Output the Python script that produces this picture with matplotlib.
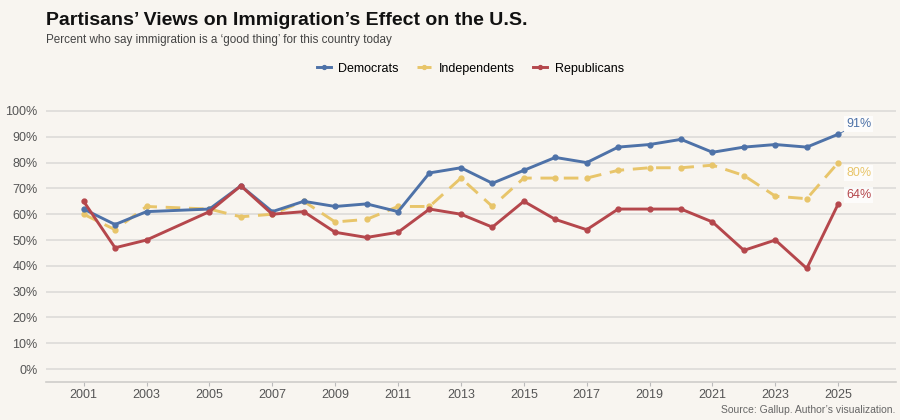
import numpy as np
import matplotlib.pyplot as plt

years = [2001, 2002, 2003, 2005, 2006, 2007, 2008, 2009, 2010, 2011, 2012, 2013,
         2014, 2015, 2016, 2017, 2018, 2019, 2020, 2021, 2022, 2023, 2024, 2025]
democrats = [62, 56, 61, 62, 71, 61, 65, 63, 64, 61, 76, 78,
             72, 77, 82, 80, 86, 87, 89, 84, 86, 87, 86, 91]
independents = [60, 54, 63, 62, 59, 60, 65, 57, 58, 63, 63, 74,
                63, 74, 74, 74, 77, 78, 78, 79, 75, 67, 66, 80]
republicans = [65, 47, 50, 61, 71, 60, 61, 53, 51, 53, 62, 60,
               55, 65, 58, 54, 62, 62, 62, 57, 46, 50, 39, 64]

bg = '#f8f5f0'
c_dem = '#4e72a8'
c_ind = '#e8c56a'
c_rep = '#b5474c'

plt.rcParams['font.family'] = ['Liberation Sans', 'DejaVu Sans']

fig = plt.figure(figsize=(9, 4.2), dpi=100, facecolor=bg)
ax = fig.add_axes([0.051, 0.0905, 0.945, 0.676], facecolor=bg)

ax.plot(years, democrats, color=c_dem, lw=2.1, marker='o', ms=3.5, label='Democrats', zorder=4)
ax.plot(years, independents, color=c_ind, lw=2.1, marker='o', ms=3.5, ls=(0, (5, 3)),
        label='Independents', zorder=3)
ax.plot(years, republicans, color=c_rep, lw=2.1, marker='o', ms=3.5, label='Republicans', zorder=4)

ax.set_xlim(1999.8, 2026.85)
ax.set_ylim(-5, 105)
ax.set_yticks(np.arange(0, 101, 10))
ax.set_yticklabels([f'{v}%' for v in range(0, 101, 10)])
ax.set_xticks(range(2001, 2026, 2))
ax.grid(axis='y', color='#dddbd8', lw=1.2)
ax.set_axisbelow(True)
for s in ['top', 'right', 'left']:
    ax.spines[s].set_visible(False)
ax.spines['bottom'].set_color('#cfcdca')
ax.spines['bottom'].set_linewidth(1.2)
ax.tick_params(axis='y', length=0, labelsize=9, labelcolor='#555555', pad=6)
ax.tick_params(axis='x', length=3, color='#bbbbbb', labelsize=9, labelcolor='#555555', pad=2)

# end labels
labs = [(democrats[-1], c_dem, 95), (independents[-1], c_ind, 76), (republicans[-1], c_rep, 67.5)]
for val, col, ly in labs:
    ax.annotate(f'{val}%', xy=(years[-1], val), xytext=(2025.25, ly), color=col, fontsize=9,
                ha='left', va='center',
                bbox=dict(boxstyle='square,pad=0.15', fc='white', ec='none', alpha=0.8),
                arrowprops=dict(arrowstyle='-', color=col, lw=0.6, shrinkA=0, shrinkB=2) if val == democrats[-1] else None,
                zorder=6)

ax.legend(loc='center', bbox_to_anchor=(0.499, 1.103), ncol=3, frameon=False,
          fontsize=9, handlelength=1.1, handletextpad=0.6, columnspacing=1.5,
          markerscale=0.8)

fig.text(0.051, 0.952, 'Partisans\u2019 Views on Immigration\u2019s Effect on the U.S.',
         fontsize=14, fontweight='bold', ha='left', va='center', color='#111111')
fig.text(0.051, 0.905, 'Percent who say immigration is a \u2018good thing\u2019 for this country today',
         fontsize=8.4, ha='left', va='center', color='#444444')
fig.text(0.995, 0.024, 'Source: Gallup. Author\u2019s visualization.', fontsize=7.5,
         ha='right', va='center', color='#666666')

fig.savefig('out.png', dpi=100, facecolor=bg)
